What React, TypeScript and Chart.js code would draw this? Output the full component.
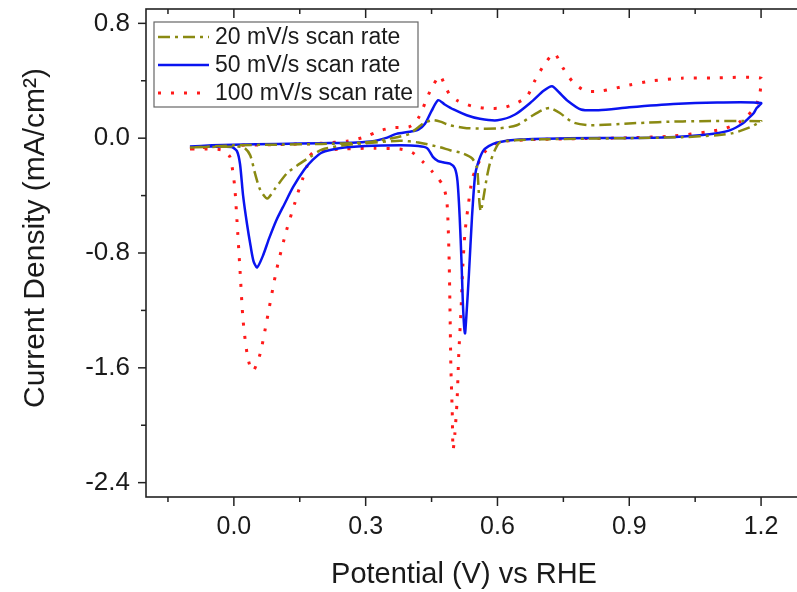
import React, { useEffect, useRef } from 'react';
import { Chart, registerables } from 'chart.js';

Chart.register(...registerables);

// ---- data (potential in V vs RHE, current density in mA/cm2), traced around each CV loop ----
const seriesLabels = ['20 mV/s scan rate', '50 mV/s scan rate', '100 mV/s scan rate'];
const seriesColors = ['#8a8a12', '#0a14f0', '#ff1a1a'];
const xTitle = 'Potential (V) vs RHE';
const yTitle = 'Current Density (mA/cm²)';

const xTicks = [0, 0.3, 0.6, 0.9, 1.2];
const xMinorTicks = [-0.15, 0.15, 0.45, 0.75, 1.05];
const yTicks = [0.8, 0, -0.8, -1.6, -2.4];
const yMinorTicks = [0.4, -0.4, -1.2, -2.0];

const pot20 = [
  -0.1, 0.0, 0.1, 0.2, 0.3, 0.36, 0.4, 0.417, 0.435, 0.453, 0.47, 0.492, 0.53, 0.6, 0.644, 0.681, 0.705, 0.72,
  0.742, 0.772, 0.81, 0.908, 1.022, 1.2,
  1.19, 1.176, 1.136, 1.1, 1.02, 0.9, 0.8, 0.7, 0.64, 0.606, 0.594, 0.583, 0.576, 0.57, 0.565, 0.562, 0.559,
  0.556, 0.553, 0.542, 0.519, 0.492, 0.469, 0.42, 0.378, 0.3, 0.25, 0.2, 0.173, 0.144, 0.121, 0.094, 0.076,
  0.06, 0.048, 0.037, 0.021, -0.03, -0.1,
];
const cur20 = [
  -0.065, -0.05, -0.045, -0.04, -0.03, 0.0, 0.03, 0.07, 0.11, 0.125, 0.115, 0.09, 0.07, 0.068, 0.09, 0.16, 0.2, 0.21,
  0.175, 0.11, 0.09, 0.104, 0.117, 0.118,
  0.1, 0.077, 0.035, 0.021, 0.007, 0.0, -0.003, -0.008, -0.015, -0.028, -0.084, -0.174, -0.27, -0.38, -0.47, -0.51, -0.45,
  -0.3, -0.2, -0.14, -0.104, -0.084, -0.063, -0.03, -0.018, -0.035, -0.05, -0.08, -0.132, -0.19, -0.244, -0.35, -0.42,
  -0.36, -0.244, -0.118, -0.063, -0.06, -0.065,
];

const pot50 = [
  -0.1, -0.05, 0.0, 0.1, 0.2, 0.28, 0.32, 0.345, 0.37, 0.4, 0.42, 0.435, 0.45, 0.465, 0.48, 0.5, 0.53, 0.56, 0.6,
  0.64, 0.68, 0.705, 0.724, 0.74, 0.76, 0.79, 0.83, 0.9, 1.0, 1.1, 1.2,
  1.19, 1.183, 1.17, 1.159, 1.13, 1.1, 1.06, 0.99, 0.9, 0.76, 0.65, 0.6, 0.58, 0.567, 0.555, 0.549, 0.542, 0.535,
  0.529, 0.526, 0.522, 0.518, 0.514, 0.509, 0.503, 0.492, 0.476, 0.465, 0.453, 0.44, 0.42, 0.38, 0.3, 0.24, 0.2,
  0.18, 0.16, 0.135, 0.115, 0.097, 0.08, 0.066, 0.053, 0.045, 0.038, 0.03, 0.021, 0.014, 0.007, -0.005, -0.05, -0.1,
];
const cur50 = [
  -0.058, -0.05, -0.045, -0.04, -0.035, -0.03, -0.02, 0.0, 0.03, 0.045, 0.06, 0.1, 0.19, 0.265, 0.235, 0.2, 0.16,
  0.135, 0.125, 0.165, 0.26, 0.33, 0.362, 0.32, 0.26, 0.2, 0.195, 0.215, 0.238, 0.248, 0.245,
  0.21, 0.174, 0.135, 0.104, 0.056, 0.035, 0.021, 0.007, 0.002, 0.0, -0.01, -0.03, -0.055, -0.09, -0.18, -0.26, -0.55,
  -0.95, -1.25, -1.36, -1.2, -0.85, -0.55, -0.3, -0.21, -0.178, -0.168, -0.16, -0.13, -0.07, -0.055, -0.05, -0.055,
  -0.07, -0.1, -0.15, -0.22, -0.34, -0.46, -0.57, -0.7, -0.82, -0.9, -0.86, -0.75, -0.6, -0.4, -0.18, -0.09, -0.062,
  -0.058, -0.06,
];

const pot100 = [
  -0.1, -0.05, 0.0, 0.1, 0.2, 0.26, 0.3, 0.33, 0.36, 0.4, 0.42, 0.447, 0.469, 0.48, 0.492, 0.51, 0.54, 0.57, 0.61,
  0.64, 0.667, 0.685, 0.704, 0.729, 0.749, 0.772, 0.8, 0.833, 0.9, 0.954, 1.02, 1.1, 1.2,
  1.199, 1.195, 1.185, 1.17, 1.15, 1.12, 1.08, 1.0, 0.9, 0.8, 0.68, 0.62, 0.6, 0.583, 0.57, 0.56, 0.55, 0.542, 0.533,
  0.526, 0.521, 0.517, 0.512, 0.508, 0.503, 0.499, 0.497, 0.494, 0.492, 0.49, 0.487, 0.484, 0.476, 0.465, 0.453,
  0.431, 0.406, 0.378, 0.32, 0.25, 0.2, 0.18, 0.172, 0.166, 0.157, 0.15, 0.139, 0.12, 0.097, 0.075, 0.06, 0.045,
  0.038, 0.03, 0.021, 0.014, 0.007, 0.002, -0.004, -0.009, -0.025, -0.06, -0.1,
];
const cur100 = [
  -0.075, -0.06, -0.05, -0.045, -0.035, -0.02, 0.01, 0.05, 0.072, 0.08, 0.14, 0.33, 0.435, 0.37, 0.3, 0.26, 0.225,
  0.21, 0.21, 0.24, 0.29, 0.4, 0.5, 0.59, 0.49, 0.39, 0.33, 0.327, 0.37, 0.4, 0.418, 0.42, 0.418,
  0.35, 0.28, 0.21, 0.16, 0.11, 0.07, 0.045, 0.015, 0.003, -0.003, -0.01, -0.02, -0.03, -0.063, -0.1, -0.153, -0.22,
  -0.29, -0.48, -0.66, -0.9, -1.2, -1.5, -1.83, -2.06, -2.17, -1.9, -1.6, -1.2, -0.85, -0.55, -0.42, -0.33, -0.28,
  -0.237, -0.167, -0.1, -0.076, -0.07, -0.075, -0.085, -0.1, -0.13, -0.2, -0.28, -0.34, -0.45, -0.64, -0.92, -1.27,
  -1.5, -1.62, -1.6, -1.5, -1.27, -0.92, -0.57, -0.34, -0.2, -0.13, -0.084, -0.075, -0.075,
];

const seriesPot = [pot20, pot50, pot100];
const seriesCur = [cur20, cur50, cur100];
const seriesDash: number[][] = [[12, 5, 3, 5], [], [3, 10]];
const seriesWidth = [2.5, 2.5, 3];

const FONT = "'Liberation Sans', Arial, sans-serif";
const TEXT = '#1a1a1a';

const framePlugin = {
  id: 'frameAndLegend',
  afterDatasetsDraw(chart: any) {
    const { ctx, chartArea: a, scales } = chart;
    const xs = scales.x;
    const ys = scales.y;
    ctx.save();
    ctx.strokeStyle = '#222';
    ctx.lineWidth = 1.6;
    ctx.strokeRect(a.left, a.top, a.right - a.left, a.bottom - a.top);
    const seg = (x1: number, y1: number, x2: number, y2: number) => {
      ctx.beginPath();
      ctx.moveTo(x1, y1);
      ctx.lineTo(x2, y2);
      ctx.stroke();
    };
    ctx.lineWidth = 1.5;
    xTicks.forEach((v) => {
      const p = xs.getPixelForValue(v);
      seg(p, a.bottom, p, a.bottom + 9);
      seg(p, a.top, p, a.top + 9);
    });
    xMinorTicks.forEach((v) => {
      const p = xs.getPixelForValue(v);
      seg(p, a.bottom, p, a.bottom + 5);
      seg(p, a.top, p, a.top + 5);
    });
    yTicks.forEach((v) => {
      const p = ys.getPixelForValue(v);
      seg(a.left - 8, p, a.left, p);
      seg(a.right - 8, p, a.right, p);
    });
    yMinorTicks.forEach((v) => {
      const p = ys.getPixelForValue(v);
      seg(a.left - 5, p, a.left, p);
      seg(a.right - 5, p, a.right, p);
    });

    // axis titles
    ctx.fillStyle = TEXT;
    ctx.textAlign = 'center';
    ctx.textBaseline = 'middle';
    ctx.font = `29px ${FONT}`;
    ctx.fillText(xTitle, 464, 575);
    ctx.save();
    ctx.translate(36, 238);
    ctx.rotate(-Math.PI / 2);
    ctx.font = `30px ${FONT}`;
    ctx.fillText(yTitle, 0, 0);
    ctx.restore();

    // legend box
    const bx = a.left + 8;
    const by = a.top + 13;
    const bw = 264;
    const bh = 85;
    ctx.fillStyle = '#fff';
    ctx.fillRect(bx, by, bw, bh);
    ctx.strokeStyle = '#666';
    ctx.lineWidth = 1.2;
    ctx.strokeRect(bx, by, bw, bh);
    ctx.font = `23px ${FONT}`;
    ctx.textBaseline = 'middle';
    ctx.textAlign = 'left';
    seriesLabels.forEach((lab, i) => {
      const ry = by + 15 + i * 28;
      ctx.strokeStyle = seriesColors[i];
      ctx.lineWidth = seriesWidth[i];
      ctx.setLineDash(seriesDash[i]);
      seg(bx + 4, ry, bx + 55, ry);
      ctx.setLineDash([]);
      ctx.fillStyle = TEXT;
      ctx.fillText(lab, bx + 61, ry + 1);
    });
    ctx.restore();
  },
};

export default function App() {
  const ref = useRef<HTMLCanvasElement>(null);
  useEffect(() => {
    const datasets = seriesLabels.map((label, i) => ({
      label,
      data: seriesPot[i].map((x, k) => ({ x, y: seriesCur[i][k] })),
      showLine: true,
      borderColor: seriesColors[i],
      backgroundColor: seriesColors[i],
      borderWidth: seriesWidth[i],
      borderDash: seriesDash[i],
      pointRadius: 0,
      tension: 0.25,
      fill: false,
    }));
    const chart = new Chart(ref.current as HTMLCanvasElement, {
      type: 'scatter',
      data: { datasets },
      plugins: [framePlugin],
      options: {
        animation: false,
        responsive: false,
        devicePixelRatio: 1,
        layout: { padding: { left: 0, right: 3, top: 9, bottom: 0 } },
        plugins: { legend: { display: false }, tooltip: { enabled: false } },
        scales: {
          x: {
            type: 'linear',
            min: -0.2,
            max: 1.3,
            afterBuildTicks: (s: any) => {
              s.ticks = xTicks.map((value) => ({ value }));
            },
            afterFit: (s: any) => {
              s.height = 95;
              s.paddingLeft = 0;
              s.paddingRight = 0;
            },
            grid: { display: false, drawTicks: false },
            border: { display: false },
            ticks: {
              autoSkip: false,
              maxRotation: 0,
              padding: 15,
              color: TEXT,
              font: { family: FONT, size: 25 },
              callback: (v: any) => Number(v).toFixed(1),
            },
            title: { display: false, text: xTitle },
          },
          y: {
            type: 'linear',
            min: -2.5,
            max: 0.9,
            afterBuildTicks: (s: any) => {
              s.ticks = yTicks.map((value) => ({ value }));
            },
            afterFit: (s: any) => {
              s.width = 146;
              s.paddingTop = 0;
              s.paddingBottom = 0;
            },
            grid: { display: false, drawTicks: false },
            border: { display: false },
            ticks: {
              autoSkip: false,
              padding: 16,
              color: TEXT,
              font: { family: FONT, size: 26 },
              callback: (v: any) => Number(v).toFixed(1),
            },
            title: { display: false, text: yTitle },
          },
        },
      },
    });
    return () => chart.destroy();
  }, []);
  return (
    <div style={{ position: 'fixed', left: 0, top: 0, width: 808, height: 592, background: '#fff' }}>
      <canvas ref={ref} width={808} height={592} style={{ width: 808, height: 592, display: 'block' }} />
    </div>
  );
}
